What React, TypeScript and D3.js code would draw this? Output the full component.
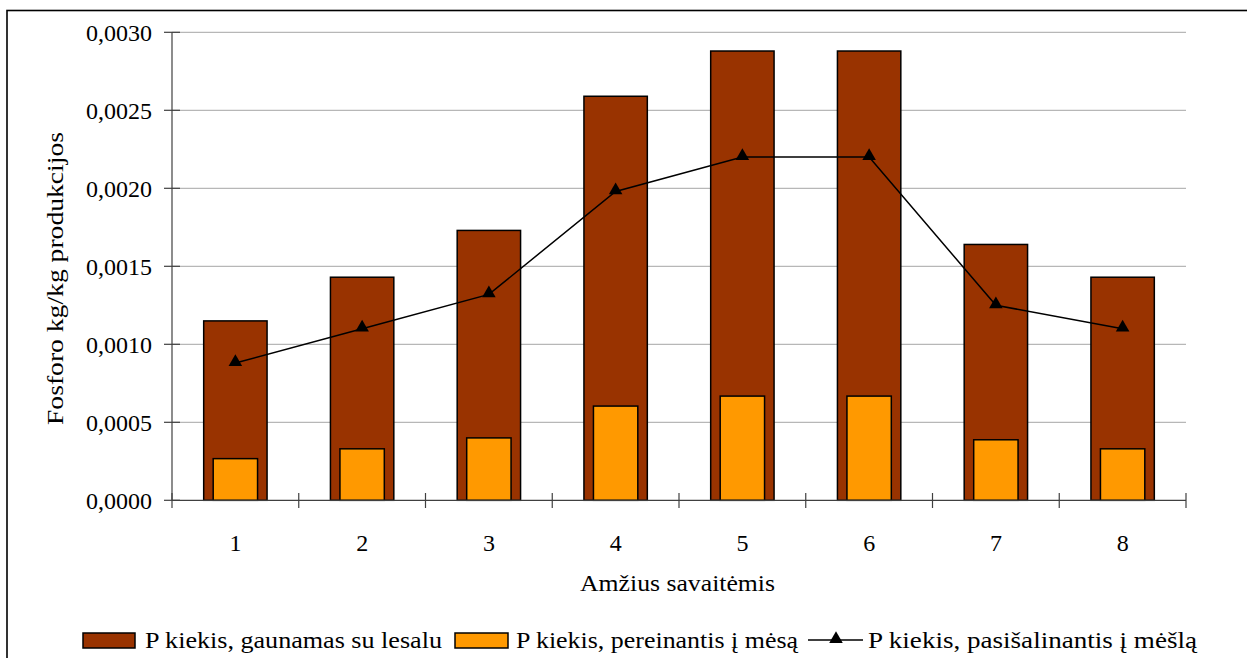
import React from "react";
import * as d3 from "d3";

// Weeks of age
const weeks = ["1", "2", "3", "4", "5", "6", "7", "8"];
// P intake with feed (kg per kg of production)
const pFeed = [0.00115, 0.00143, 0.00173, 0.00259, 0.00288, 0.00288, 0.00164, 0.00143];
// P retained in meat
const pMeat = [0.000267, 0.00033, 0.0004, 0.000604, 0.000668, 0.000668, 0.000388, 0.00033];
// P excreted in manure
const pManure = [0.00088, 0.0011, 0.00132, 0.00198, 0.0022, 0.0022, 0.00125, 0.0011];
const yTicks = [0, 0.0005, 0.001, 0.0015, 0.002, 0.0025, 0.003];

const legendLabels = [
  "P kiekis, gaunamas su lesalu",
  "P kiekis, pereinantis į mėsą",
  "P kiekis, pasišalinantis į mėšlą",
];

const W = 1247;
const H = 658;
const left = 172;
const right = 1186;
const top = 32.3;
const bottom = 500.3;
const FONT = "Liberation Serif, Times New Roman, Times, serif";
const BROWN = "#993300";
const ORANGE = "#FF9900";

const fmt = (v: number) => v.toFixed(4).replace(".", ",");

export default function App() {
  const x = d3
    .scaleBand<string>()
    .domain(weeks)
    .range([left, right])
    .paddingInner(0.5)
    .paddingOuter(0.25);
  const y = d3.scaleLinear().domain([0, 0.003]).range([bottom, top]);
  const step = x.step();
  const bw = x.bandwidth();
  const innerW = bw * 0.7;
  const cx = (w: string) => (x(w) as number) + bw / 2;

  const line = d3
    .line<number>()
    .x((_, i) => cx(weeks[i]))
    .y((d) => y(d));

  const tri = d3.symbol().type(d3.symbolTriangle).size(80)() as string;

  const boundaries = d3.range(weeks.length + 1).map((i) => left + i * step);

  return (
    <svg
      width={W}
      height={H}
      style={{ position: "absolute", left: 0, top: 0, background: "#fff", fontFamily: FONT }}
    >
      {/* outer frame */}
      <rect x={7} y={10.5} width={W + 10} height={H + 10} fill="none" stroke="#000" strokeWidth={1.6} />

      {/* gridlines */}
      {yTicks.slice(1).map((t) => (
        <line key={t} x1={left} x2={right} y1={y(t)} y2={y(t)} stroke="#a6a6a6" strokeWidth={1} />
      ))}

      {/* feed bars */}
      {weeks.map((w, i) => (
        <rect
          key={"f" + w}
          x={x(w)}
          y={y(pFeed[i])}
          width={bw}
          height={bottom - y(pFeed[i])}
          fill={BROWN}
          stroke="#000"
          strokeWidth={1.5}
        />
      ))}
      {/* meat bars */}
      {weeks.map((w, i) => (
        <rect
          key={"m" + w}
          x={cx(w) - innerW / 2}
          y={y(pMeat[i])}
          width={innerW}
          height={bottom - y(pMeat[i])}
          fill={ORANGE}
          stroke="#000"
          strokeWidth={1.5}
        />
      ))}

      {/* axes */}
      <line x1={left} x2={left} y1={top} y2={bottom} stroke="#404040" strokeWidth={1.2} />
      <line x1={left} x2={right} y1={bottom} y2={bottom} stroke="#404040" strokeWidth={1.2} />
      {yTicks.map((t) => (
        <g key={"yt" + t}>
          <line x1={164} x2={180} y1={y(t)} y2={y(t)} stroke="#404040" strokeWidth={1.2} />
          <text x={152} y={y(t) + 8.5} textAnchor="end" fontSize={24}>
            {fmt(t)}
          </text>
        </g>
      ))}
      {boundaries.map((b, i) => (
        <line key={"xt" + i} x1={b} x2={b} y1={493} y2={508} stroke="#404040" strokeWidth={1.2} />
      ))}
      {weeks.map((w) => (
        <text key={"xl" + w} x={cx(w)} y={551} textAnchor="middle" fontSize={24}>
          {w}
        </text>
      ))}

      {/* manure line */}
      <path d={line(pManure) as string} fill="none" stroke="#000" strokeWidth={1.5} />
      {pManure.map((v, i) => (
        <path key={"p" + i} d={tri} transform={`translate(${cx(weeks[i])},${y(v) - 1})`} fill="#000" />
      ))}

      {/* axis titles */}
      <text x={580} y={591} fontSize={24} textLength={195} lengthAdjust="spacingAndGlyphs">
        Amžius savaitėmis
      </text>
      <text
        transform="translate(63,425) rotate(-90)"
        fontSize={24}
        textLength={293}
        lengthAdjust="spacingAndGlyphs"
      >
        Fosforo kg/kg produkcijos
      </text>

      {/* legend */}
      <rect x={83} y={633} width={52} height={15} fill={BROWN} stroke="#000" strokeWidth={1.5} />
      <text x={145} y={648} fontSize={24} textLength={297} lengthAdjust="spacingAndGlyphs">
        {legendLabels[0]}
      </text>
      <rect x={455} y={633} width={53} height={15} fill={ORANGE} stroke="#000" strokeWidth={1.5} />
      <text x={516} y={648} fontSize={24} textLength={282} lengthAdjust="spacingAndGlyphs">
        {legendLabels[1]}
      </text>
      <line x1={808} x2={863} y1={640} y2={640} stroke="#000" strokeWidth={1.5} />
      <path d={tri} transform="translate(836,639)" fill="#000" />
      <text x={868} y={648} fontSize={24} textLength={329} lengthAdjust="spacingAndGlyphs">
        {legendLabels[2]}
      </text>
    </svg>
  );
}
